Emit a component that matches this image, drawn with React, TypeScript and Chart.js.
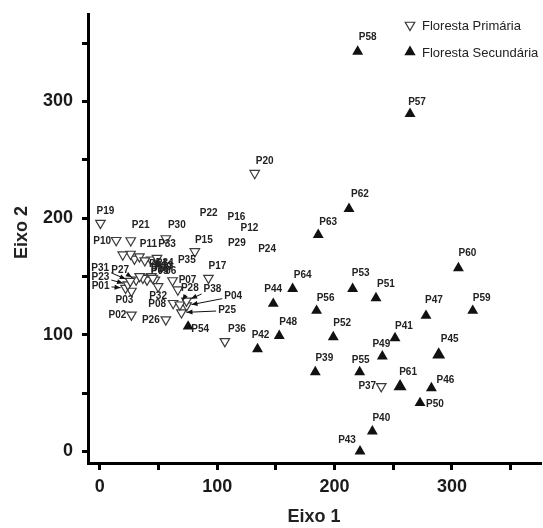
import React, { useEffect, useRef } from 'react';
import { Chart, registerables } from 'chart.js';

Chart.register(...registerables);

// ---- Data ----
const PRIMARY_NAMES = [
  'P01', 'P02', 'P03', 'P04', 'P05', 'P06', 'P07', 'P08', 'P09', 'P10',
  'P11', 'P12', 'P13', 'P14', 'P15', 'P16', 'P17', 'P18', 'P19', 'P20',
  'P21', 'P22', 'P23', 'P24', 'P25', 'P26', 'P27', 'P28', 'P29', 'P30',
  'P31', 'P32', 'P33', 'P34', 'P35', 'P36', 'P37', 'P38',
];
const PRIMARY_X = [
  22, 27, 27, 74, 40, 44, 62, 62.5, 47, 14,
  29.6, 33.8, 40.3, 36.7, 81, 26.2, 92.6, 45.2, 0.6, 132,
  26.4, 19.6, 24, 43.7, 69.6, 56.3, 31, 68.2, 38.4, 56.3,
  26, 49.7, 48.8, 34, 66.5, 106.6, 239.8, 73.9,
];
const PRIMARY_Y = [
  140, 117, 137.5, 125, 149, 150, 146.5, 127, 147, 181,
  165, 167, 147, 148.6, 171.4, 169.2, 148.6, 148.6, 195.7, 238.5,
  180.8, 168.6, 143, 164.3, 119, 112.9, 147, 125.7, 163.6, 182.5,
  146, 141.4, 165.7, 150, 138.6, 94.3, 55.7, 129,
];

const SECONDARY_NAMES = [
  'P39', 'P40', 'P41', 'P42', 'P43', 'P44', 'P45', 'P46', 'P47', 'P48',
  'P49', 'P50', 'P51', 'P52', 'P53', 'P54', 'P55', 'P56', 'P57', 'P58',
  'P59', 'P60', 'P61', 'P62', 'P63', 'P64',
];
const SECONDARY_X = [
  183.6, 232.2, 251.5, 134.4, 221.7, 147.8, 288.7, 282.5, 277.9, 152.9,
  240.7, 272.8, 235.3, 198.9, 215.4, 75.3, 221.4, 184.7, 264.3, 219.7,
  317.7, 305.5, 255.8, 212.3, 186.1, 164.3,
];
const SECONDARY_Y = [
  68, 17.1, 97.2, 87.7, 0, 126.6, 82.9, 54.3, 116.3, 99.1,
  81.4, 41.5, 131.4, 98, 139.4, 107.1, 68, 120.6, 289.4, 342.8,
  120.6, 157.2, 55.7, 207.9, 185.7, 139.4,
];

const SERIES_LABELS = ['Floresta Primária', 'Floresta Secundária'];
const X_TICKS = [0, 50, 100, 150, 200, 250, 300, 350];
const Y_TICKS = [0, 50, 100, 150, 200, 250, 300, 350];
const X_TITLE = 'Eixo 1';
const Y_TITLE = 'Eixo 2';

// ---- Label placement (pixel offsets of label centre from marker) ----
const LABEL_OFFSETS: Record<string, [number, number]> = {
  P19: [5, -12], P10: [-14, 1], P21: [10, -15], P30: [11, -13], P15: [9, -11],
  P17: [9, -12], P20: [10, -12], P36: [12, -12], P37: [-14, 0], P07: [15, 0],
  P35: [9, -29], P11: [14, -15], P33: [10, -14], P22: [86, -41], P16: [106, -37],
  P12: [110, -28], P29: [92, -17], P24: [116, -10], P14: [15, -14], P13: [17, -14],
  P18: [7, -9], P06: [16, -5], P05: [13, -6], P09: [8, -13], P34: [25, -13],
  P31: [-30, -13], P23: [-27.5, -7.5], P01: [-25, -2], P27: [-16, -10],
  P03: [-7, 9], P02: [-14, 0], P26: [-15, 1], P32: [0, 10], P08: [-16, 1.5],
  P28: [10, -16], P38: [26, -12], P04: [46.5, -9], P25: [45.6, -2],
  P63: [10, -12.5], P60: [9, -15], P64: [10, -14], P44: [0, -14], P53: [8, -16],
  P51: [10, -14], P56: [9, -12], P47: [8, -15], P59: [9, -12], P48: [9, -14],
  P42: [3, -14], P52: [9, -14], P41: [9, -12], P49: [-1, -12], P45: [11, -15],
  P39: [9, -14], P55: [1, -12], P61: [8, -14], P46: [14, -8], P50: [15, 1],
  P40: [9, -13], P43: [-13, -11], P54: [12, 3], P57: [7, -12], P58: [10, -14],
  P62: [11, -15],
};
const ARROW_LABELS = ['P31', 'P23', 'P01', 'P27', 'P28', 'P38', 'P04', 'P25'];
const BIG_MARKERS = ['P45', 'P61'];

const FONT = '"Liberation Sans", Arial, Helvetica, sans-serif';
const NAME_LISTS = [PRIMARY_NAMES, SECONDARY_NAMES];

function triangle(ctx: CanvasRenderingContext2D, x: number, y: number, r: number, down: boolean) {
  const s = down ? -1 : 1;
  ctx.beginPath();
  ctx.moveTo(x, y - s * r);
  ctx.lineTo(x + r * Math.sin((2 * Math.PI) / 3), y + s * r / 2);
  ctx.lineTo(x - r * Math.sin((2 * Math.PI) / 3), y + s * r / 2);
  ctx.closePath();
}

const annotatePlugin = {
  id: 'annotate',
  afterDatasetsDraw(chart: any) {
    const ctx: CanvasRenderingContext2D = chart.ctx;
    ctx.save();
    ctx.font = `bold 10px ${FONT}`;
    ctx.textAlign = 'center';
    ctx.textBaseline = 'middle';
    NAME_LISTS.forEach((names, di) => {
      const meta = chart.getDatasetMeta(di);
      names.forEach((name, i) => {
        const el = meta.data[i];
        const off = LABEL_OFFSETS[name];
        if (!el || !off) return;
        const lx = el.x + off[0];
        const ly = el.y + off[1];
        ctx.fillStyle = '#222';
        ctx.fillText(name, lx, ly);
        if (ARROW_LABELS.includes(name)) {
          const w = ctx.measureText(name).width / 2 + 2;
          const h = 6;
          const vx = el.x - lx;
          const vy = el.y - ly;
          const len = Math.hypot(vx, vy);
          const ux = vx / len;
          const uy = vy / len;
          const t = Math.min(vx !== 0 ? w / Math.abs(vx) : Infinity, vy !== 0 ? h / Math.abs(vy) : Infinity);
          const sx = lx + vx * t;
          const sy = ly + vy * t;
          const ex = el.x - ux * 5;
          const ey = el.y - uy * 5;
          ctx.strokeStyle = '#111';
          ctx.lineWidth = 1;
          ctx.beginPath();
          ctx.moveTo(sx, sy);
          ctx.lineTo(ex, ey);
          ctx.stroke();
          const px = -uy;
          const py = ux;
          ctx.fillStyle = '#111';
          ctx.beginPath();
          ctx.moveTo(ex, ey);
          ctx.lineTo(ex - ux * 6 + px * 2.5, ey - uy * 6 + py * 2.5);
          ctx.lineTo(ex - ux * 6 - px * 2.5, ey - uy * 6 - py * 2.5);
          ctx.closePath();
          ctx.fill();
        }
      });
    });

    // legend
    const area = chart.chartArea;
    const lx = area.right - 130;
    const rows = [area.top + 11, area.top + 38];
    ctx.font = `13px ${FONT}`;
    ctx.textAlign = 'left';
    rows.forEach((y, i) => {
      if (i === 0) {
        triangle(ctx, lx, y, 5.5, true);
        ctx.fillStyle = '#fff';
        ctx.fill();
        ctx.strokeStyle = '#333';
        ctx.lineWidth = 1.2;
        ctx.stroke();
      } else {
        triangle(ctx, lx, y, 6.5, false);
        ctx.fillStyle = '#111';
        ctx.fill();
      }
      ctx.fillStyle = '#222';
      ctx.fillText(SERIES_LABELS[i], lx + 12, y + 1);
    });

    // y axis title (drawn manually to match its slightly raised position)
    ctx.save();
    ctx.font = `bold 18px ${FONT}`;
    ctx.fillStyle = '#222';
    ctx.textAlign = 'center';
    ctx.textBaseline = 'middle';
    ctx.translate(22, (area.top + area.bottom) / 2 - 6);
    ctx.rotate(-Math.PI / 2);
    ctx.fillText(Y_TITLE, 0, 0);
    ctx.restore();

    ctx.restore();
  },
};

function zeroPadding(s: any) {
  s.paddingTop = 0;
  s.paddingBottom = 0;
  s.paddingLeft = 0;
  s.paddingRight = 0;
}

export default function App() {
  const canvasRef = useRef<HTMLCanvasElement | null>(null);

  useEffect(() => {
    if (!canvasRef.current) return;
    const primary = PRIMARY_X.map((x, i) => ({ x, y: PRIMARY_Y[i] }));
    const secondary = SECONDARY_X.map((x, i) => ({ x, y: SECONDARY_Y[i] }));

    const axisCommon = (ticks: number[]) => ({
      type: 'linear' as const,
      min: -10,
      max: 375,
      afterBuildTicks: (s: any) => {
        s.ticks = ticks.map((v) => ({ value: v }));
      },
      border: { display: true, color: '#000', width: 3 },
    });

    const chart = new Chart(canvasRef.current, {
      type: 'scatter',
      data: {
        datasets: [
          {
            label: SERIES_LABELS[0],
            data: primary,
            pointStyle: 'triangle',
            rotation: 180,
            pointRadius: 5.5,
            backgroundColor: '#ffffff',
            borderColor: '#3a3a3a',
            borderWidth: 1.2,
          },
          {
            label: SERIES_LABELS[1],
            data: secondary,
            pointStyle: 'triangle',
            pointRadius: (c: any) => (BIG_MARKERS.includes(SECONDARY_NAMES[c.dataIndex]) ? 7.5 : 6.3),
            backgroundColor: '#111',
            borderColor: '#111',
            borderWidth: 0,
          },
        ],
      },
      options: {
        animation: false,
        responsive: false,
        events: [],
        layout: { autoPadding: false, padding: { top: 14, right: 3, left: 0, bottom: 0 } },
        plugins: { legend: { display: false }, tooltip: { enabled: false } },
        scales: {
          x: {
            ...axisCommon(X_TICKS),
            afterFit: (s: any) => {
              s.height = 65;
              zeroPadding(s);
            },
            grid: { drawOnChartArea: false, drawTicks: true, color: '#000', lineWidth: 3, tickLength: 7 },
            ticks: {
              autoSkip: false,
              maxRotation: 0,
              padding: 6,
              color: '#1a1a1a',
              font: { family: FONT, size: 18, weight: 'bold' },
              callback: (v: any) => (Number(v) % 100 === 0 ? String(v) : ''),
            },
            title: {
              display: true,
              text: X_TITLE,
              color: '#222',
              font: { family: FONT, size: 18, weight: 'bold' },
              padding: { top: 0, bottom: 0 },
            },
          },
          y: {
            ...axisCommon(Y_TICKS),
            afterFit: (s: any) => {
              s.width = 88;
              zeroPadding(s);
            },
            grid: { drawOnChartArea: false, drawTicks: true, color: '#000', lineWidth: 3, tickLength: 6 },
            ticks: {
              autoSkip: false,
              padding: 9,
              color: '#1a1a1a',
              font: { family: FONT, size: 18, weight: 'bold' },
              callback: (v: any) => (Number(v) % 100 === 0 ? String(v) : ''),
            },
            title: { display: false },
          },
        },
      } as any,
      plugins: [annotatePlugin],
    });
    return () => chart.destroy();
  }, []);

  return (
    <div style={{ position: 'fixed', left: 0, top: 0, width: 543, height: 528, background: '#fff' }}>
      <canvas ref={canvasRef} width={543} height={528} style={{ width: 543, height: 528 }} />
    </div>
  );
}
